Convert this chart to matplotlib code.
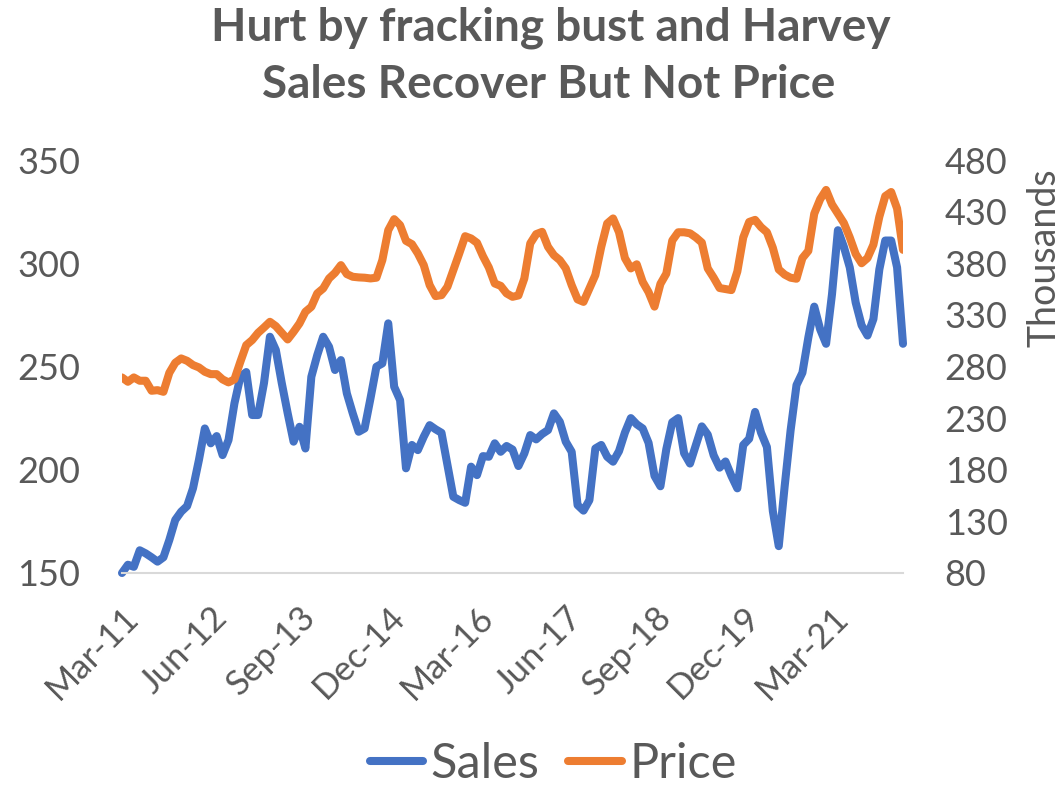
import matplotlib
matplotlib.use("Agg")
import matplotlib.pyplot as plt
import matplotlib.transforms as mtransforms
import numpy as np

# Monthly series, Mar-2011 .. Mar-2022
sales = [150, 154, 153, 161, 159.5, 157.6, 155.5, 157.6, 166, 175.7,
         179.7, 182.4, 191, 204.7, 220, 212.8, 216.3, 207.1, 214.4, 232.1,
         245, 247.3, 226.5, 226.5, 242, 264.4, 258, 242, 227.4, 213.6,
         220.8, 210.3, 245, 255.5, 264.4, 259.5, 248.3, 253.1, 237, 227.3,
         218.4, 220, 234.6, 249.9, 251.5, 270.9, 240.2, 233.7, 200.7, 212,
         209.5, 216, 221.6, 219.6, 217.9, 202.3, 186.9, 185.3, 184, 201.5,
         197.4, 206.6, 206.3, 212.8, 208.7, 211.5, 209.8, 201.8, 207.9, 216.8,
         214.7, 217.3, 219.2, 227.3, 223.2, 213.6, 208.7, 182.9, 180.2, 185.3,
         210.3, 212, 206.3, 203.9, 209, 218, 225, 222, 220, 213,
         197, 192, 210, 223, 225, 208, 203, 212, 221, 217,
         207, 201, 204, 197, 191, 212, 215, 228, 218, 211,
         180, 163, 192, 219, 241, 247, 264, 279, 268, 261,
         285, 316, 308, 298, 281, 270, 265, 273, 297, 311,
         311, 298, 261]

price = [269.4, 265.2, 269.4, 266.2, 266.2, 256.5, 257.1, 255.5, 273.9, 283.6,
         287.8, 285.5, 281.4, 279.1, 274.9, 272.6, 272.6, 267.5, 264.6, 267.5,
         284.5, 300.7, 305.6, 312.6, 317.8, 323.3, 319.1, 312.6, 306.2, 313.6,
         321.7, 333, 337.8, 350.8, 355.6, 365.3, 370.7, 378.2, 369.5, 366.9,
         366.3, 366, 365.3, 366, 383, 412, 422.7, 416.9, 401.7, 398.5,
         389.5, 378.2, 358.8, 348.2, 349.1, 357.2, 373.3, 389.5, 406.2, 404,
         399.8, 386.9, 375.9, 360.4, 358.1, 350.8, 347.5, 348.8, 365.3, 399.2,
         408.2, 410.4, 395.9, 387.8, 383, 375, 358.8, 345, 342.6, 355.6,
         368.5, 395.9, 418.5, 423.4, 410, 385, 375, 379, 362, 352,
         338, 360, 370, 402, 410, 410, 409, 405, 400, 375,
         366, 356, 355, 354, 372, 405, 420, 422, 415, 410,
         395, 374, 369, 366, 365, 385, 392, 428, 442, 451,
         437, 428, 419, 405, 389, 380, 385, 398, 425, 445,
         449, 433, 393]

tick_labels = ["Mar-11", "Jun-12", "Sep-13", "Dec-14", "Mar-16",
               "Jun-17", "Sep-18", "Dec-19", "Mar-21"]
tick_step = 15

TXT = "#595959"
plt.rcParams['font.family'] = ['Lato', 'DejaVu Sans']

fig = plt.figure(figsize=(10.64, 7.85), dpi=100)
W, H = 1064, 785
L, R, T, B = 122, 903, 160, 573
ax = fig.add_axes([L / W, 1 - B / H, (R - L) / W, (B - T) / H])

x = np.arange(len(sales))
l1, = ax.plot(x, sales, color="#4472C4", lw=5.8, solid_joinstyle="round",
              solid_capstyle="round", label="Sales", clip_on=False)
ax.set_xlim(0, len(sales) - 1)
ax.set_ylim(150, 350)
ax.set_yticks(np.arange(150, 351, 50))
ax.set_xticks(np.arange(0, len(tick_labels) * tick_step, tick_step))
ax.set_xticklabels(tick_labels, rotation=45, ha="right", va="top",
                   rotation_mode="anchor")
shift = mtransforms.ScaledTranslation(-6 / 100, -2 / 100, fig.dpi_scale_trans)
for lab in ax.get_xticklabels():
    lab.set_transform(lab.get_transform() + shift)
ax.tick_params(axis="y", length=0, labelsize=26, labelcolor=TXT, pad=30)
ax.tick_params(axis="x", length=0, labelsize=25, labelcolor=TXT, pad=20)
for s in ["top", "left", "right"]:
    ax.spines[s].set_visible(False)
ax.spines["bottom"].set_color("#D9D9D9")
ax.spines["bottom"].set_linewidth(1.5)

ax2 = ax.twinx()
l2, = ax2.plot(x, price, color="#ED7D31", lw=5.8, solid_joinstyle="round",
               solid_capstyle="round", label="Price")
ax2.set_ylim(80, 480)
ax2.set_yticks(np.arange(80, 481, 50))
ax2.tick_params(axis="y", length=0, labelsize=26, labelcolor=TXT, pad=30)
for s in ax2.spines.values():
    s.set_visible(False)

fig.text(1045 / W, 1 - 258 / H, "Thousands", rotation=90, ha="center",
         va="center", fontsize=27, color=TXT)

fig.text(551 / W, 1 - 28 / H, "Hurt by fracking bust and Harvey",
         ha="center", va="center", fontsize=33, fontweight="bold", color=TXT)
fig.text(549 / W, 1 - 85 / H, "Sales Recover But Not Price",
         ha="center", va="center", fontsize=33, fontweight="bold", color=TXT)

fig.legend(handles=[l1, l2], loc="center", bbox_to_anchor=(553 / W, 1 - 764 / H),
           ncol=2, frameon=False, fontsize=35, handlelength=1.1,
           handletextpad=0.15, columnspacing=0.6, labelcolor=TXT)

fig.savefig("out.png", dpi=100)
